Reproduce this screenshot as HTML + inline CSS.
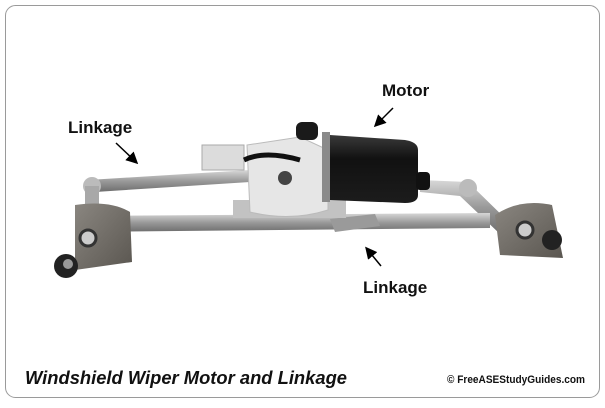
<!DOCTYPE html>
<html><head><style>
body{margin:0;width:605px;height:403px;background:#fff;overflow:hidden;font-family:"Liberation Sans",sans-serif}
</style></head><body>
<svg width="605" height="403" viewBox="0 0 605 403" xmlns="http://www.w3.org/2000/svg">
<defs>
<linearGradient id="met" x1="0" y1="0" x2="0" y2="1"><stop offset="0" stop-color="#d8d8d8"/><stop offset=".5" stop-color="#9a9a9a"/><stop offset="1" stop-color="#6d6d6d"/></linearGradient>
<linearGradient id="blk" x1="0" y1="0" x2="0" y2="1"><stop offset="0" stop-color="#3a3a3a"/><stop offset=".35" stop-color="#111"/><stop offset="1" stop-color="#1c1c1c"/></linearGradient>
<linearGradient id="plate" x1="0" y1="0" x2="1" y2="1"><stop offset="0" stop-color="#8a8680"/><stop offset="1" stop-color="#5a5650"/></linearGradient>
<marker id="ah" markerWidth="8" markerHeight="8" refX="6" refY="4" orient="auto"><path d="M0,0 L8,4 L0,8 z" fill="#000"/></marker>
</defs>
<rect x="5.5" y="5.5" width="594" height="392" rx="10" fill="#fff" stroke="#9a9a9a"/>
<path d="M88,180 L250,170 L250,182 L95,192 Z" fill="url(#met)"/>
<circle cx="92" cy="186" r="9" fill="#bbb"/>
<rect x="85" y="186" width="14" height="22" fill="#a8a8a8"/>
<path d="M420,180 L468,182 L515,228 L500,234 L460,196 L420,192 Z" fill="url(#met)"/>
<circle cx="468" cy="188" r="9" fill="#bbb"/>
<path d="M75,216 L490,213 L490,228 L75,232 Z" fill="url(#met)"/>
<path d="M330,219 L375,214 L380,226 L335,232 Z" fill="#9a9a9a"/>
<path d="M75,205 Q110,200 130,212 L132,262 L75,270 Z" fill="url(#plate)"/>
<circle cx="88" cy="238" r="8" fill="#ccc" stroke="#333" stroke-width="3"/>
<circle cx="66" cy="266" r="12" fill="#222"/>
<circle cx="68" cy="264" r="5" fill="#999"/>
<path d="M495,215 Q520,198 552,205 L563,258 L500,255 Z" fill="url(#plate)"/>
<circle cx="525" cy="230" r="8" fill="#ccc" stroke="#333" stroke-width="3"/>
<circle cx="552" cy="240" r="10" fill="#222"/>
<rect x="233" y="200" width="113" height="18" fill="#c2c2c2"/>
<rect x="202" y="145" width="42" height="25" fill="#dcdcdc" stroke="#aaa"/>
<path d="M247,145 L300,137 L328,150 L328,210 Q290,222 250,212 Z" fill="#e6e6e6" stroke="#bbb"/>
<circle cx="285" cy="178" r="7" fill="#444"/>
<path d="M244,160 Q265,150 300,160" stroke="#111" stroke-width="5" fill="none"/>
<rect x="296" y="122" width="22" height="18" rx="6" fill="#1a1a1a"/>
<rect x="322" y="132" width="8" height="70" fill="#8a8a8a"/>
<path d="M330,135 L405,140 Q418,142 418,150 L418,195 Q418,203 405,203 L330,200 Z" fill="url(#blk)"/>
<rect x="416" y="172" width="14" height="18" rx="4" fill="#111"/>
<g font-weight="bold" font-size="17" fill="#111">
<text x="382" y="96">Motor</text>
<text x="68" y="133">Linkage</text>
<text x="363" y="293">Linkage</text>
</g>
<g stroke="#000" stroke-width="1.5" marker-end="url(#ah)">
<line x1="116" y1="143" x2="136" y2="162"/>
<line x1="393" y1="108" x2="376" y2="125"/>
<line x1="381" y1="266" x2="367" y2="249"/>
</g>
<text x="25" y="384" font-size="18" font-style="italic" font-weight="bold" fill="#111" textLength="322" lengthAdjust="spacingAndGlyphs">Windshield Wiper Motor and Linkage</text>
<text x="447" y="383" font-size="11" font-weight="bold" fill="#111" textLength="138" lengthAdjust="spacingAndGlyphs">© FreeASEStudyGuides.com</text>
</svg>
</body></html>
